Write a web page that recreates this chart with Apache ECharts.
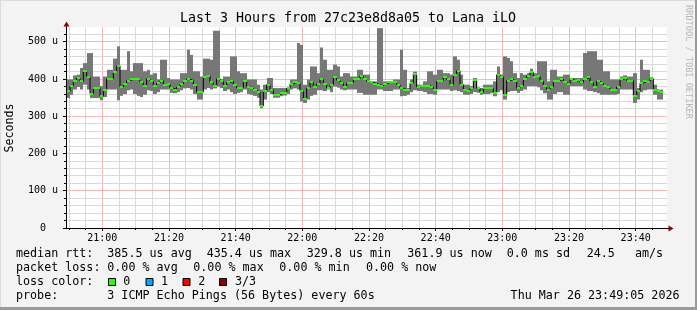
<!DOCTYPE html>
<html><head><meta charset="utf-8">
<script src="https://cdn.jsdelivr.net/npm/echarts@6/dist/echarts.min.js"></script>
<style>html,body{margin:0;padding:0;background:#f3f3f3}#c{width:697px;height:310px}</style>
</head><body><div id="c"></div>
<script>
// ---------- data (microseconds) ----------
const TITLE = 'Last 3 Hours from 27c23e8d8a05 to Lana iLO';
const FIRST_STEP_END = 50.3;   // minutes after 20:00 at which the first 60s step ends
const STEP = 1;                // minutes per step
const medianRtt = [
367,382,394,403,394,421,407,361,377,377,
354,370,401,401,418,436,379,388,396,399,
399,399,391,382,401,394,382,389,396,385,
387,376,372,379,387,394,400,396,385,365,
365,406,409,391,381,401,394,381,391,394,
385,376,376,394,379,376,370,365,328,367,
385,372,358,358,363,363,375,387,391,389,
367,347,376,391,379,388,399,387,376,385,
406,397,389,379,389,
390,399,401,409,400,394,391,388,385,382,
388,391,391,391,385,375,372,372,389,415,
379,382,381,382,379,372,394,396,406,399,
385,412,423,385,370,369,376,397,375,365,
376,375,375,363,412,406,358,396,399,394,
375,382,400,409,418,407,409,394,381,372,
379,394,396,400,391,387,399,394,397,391,
400,405,391,379,394,389,382,378,372,372,
379,399,403,396,396,355,367,389,394,391,
401,372,367,365];
const maxRtt = [
399,399,410,412,430,443,470,470,407,407,
381,407,425,425,455,488,425,425,475,421,
443,443,443,421,425,412,416,399,452,452,
403,399,399,399,416,416,479,465,421,421,
407,455,455,452,530,530,400,407,407,461,
461,421,416,416,399,399,399,385,372,385,
403,403,376,376,376,376,376,399,399,497,
492,385,399,434,434,416,485,452,425,425,
439,434,407,416,416,
407,407,425,425,412,412,394,394,537,537,
394,394,394,399,399,479,425,376,399,420,
385,385,394,421,421,412,425,425,416,416,
412,461,452,412,385,385,381,403,378,376,
385,385,385,394,434,412,461,457,448,416,
403,416,412,416,428,416,448,448,448,394,
425,425,407,407,412,412,403,403,403,403,
470,475,475,475,452,452,421,421,399,399,
399,407,410,407,407,416,376,452,425,425,
405,385,372,372];
const minRtt = [
349,358,372,379,372,385,372,349,349,349,
343,352,372,372,372,343,355,360,370,372,
360,355,352,358,370,368,360,365,372,372,
372,363,362,365,370,375,376,372,360,345,
345,372,376,372,375,380,376,368,372,365,
360,363,365,372,360,358,355,350,322,345,
365,360,350,350,354,356,360,372,375,372,
340,336,345,355,358,370,370,368,372,365,
380,377,372,370,372,
372,372,363,363,358,358,358,358,372,372,
368,368,368,372,372,354,355,358,365,370,
368,368,365,360,360,358,372,372,372,372,
368,370,368,365,358,358,360,365,363,358,
360,360,362,354,365,370,345,365,368,368,
363,368,372,381,381,381,378,370,362,345,
345,360,365,365,358,358,381,381,381,381,
372,368,368,365,362,358,358,358,358,358,
360,372,372,372,372,336,345,365,370,372,
372,358,345,345];
const xTickMinutes = [60,80,100,120,140,160,180,200,220];
const yTickValues = [0,100,200,300,400,500];
const statLabels = ['median rtt:','packet loss:','loss color:','probe:'];
const medianStats = ['385.5 us avg','435.4 us max','329.8 us min','361.9 us now','0.0 ms sd','24.5','am/s'];
const lossStats = ['0.00 % avg','0.00 % max','0.00 % min','0.00 % now'];
const lossColorNames = ['0','1','2','3/3'];
const lossColors = ['#26ff00','#00a8ff','#ff0000','#8e0000'];
const probeText = '3 ICMP Echo Pings (56 Bytes) every 60s';
const stampText = 'Thu Mar 26 23:49:05 2026';

// ---------- rendering ----------
const FONT = 'DejaVu Sans Mono';
const X_MIN = 49.4, X_MAX = 229.4, Y_MIN = 0, Y_MAX = 540;
const endTimes = medianRtt.map((_, i) => FIRST_STEP_END + i * STEP);
const smokeData = endTimes.map((t, i) => [t, minRtt[i], maxRtt[i]]);
const medData = endTimes.map((t, i) => [t, medianRtt[i]]);
const vLines = [];   // [minute, isMajor]
for (let m = 50; m <= 225; m += 5) vLines.push([m, xTickMinutes.indexOf(m) >= 0]);
const hLines = [];   // [value, isMajor]
for (let v = 20; v < Y_MAX; v += 20) hLines.push([v, yTickValues.indexOf(v) >= 0]);
const MINOR_COL = '#d9d9d9', MAJOR_COL = '#f6b8b8';

function hhmm(m){ const h = 20 + Math.floor(m/60), mm = Math.round(m % 60); return h + ':' + (mm<10?'0':'') + mm; }
const crisp = v => Math.round(v - 0.5) + 0.5;

function smokeRender(params, api){
  const t = api.value(0), lo = api.value(1), hi = api.value(2);
  const a = api.coord([t - STEP, hi]), b = api.coord([t, lo]);
  const x0 = Math.round(a[0]), x1 = Math.round(b[0]);
  return {type:'rect', shape:{x:x0, y:a[1], width:x1-x0, height:b[1]-a[1]}, style:{fill:'#777777'}};
}
function greenRender(params, api){
  const t = api.value(0), v = api.value(1);
  const a = api.coord([t - STEP, v]), b = api.coord([t, v]);
  const x0 = Math.round(a[0]), x1 = Math.round(b[0]);
  return {type:'rect', shape:{x:x0, y:Math.round(a[1])-1, width:x1-x0, height:2}, style:{fill:lossColors[0]}};
}

const txt = (x, y, text, extra) => Object.assign({type:'text', x, y, silent:true, z:20,
  style:Object.assign({text, fill:'#000', font:'11.7px "'+FONT+'"', verticalAlign:'middle', align:'left'}, extra||{})});

const chart = echarts.init(document.getElementById('c'), null, {renderer:'canvas'});
chart.setOption({
  animation:false,
  backgroundColor:'#f3f3f3',
  grid:{left:67, top:27, width:600, height:201, show:false},
  xAxis:{type:'value', min:X_MIN, max:X_MAX,
    axisLine:{show:false}, splitLine:{show:false}, axisTick:{show:false},
    axisLabel:{customValues:xTickMinutes, formatter:v=>hhmm(v), fontFamily:FONT, fontSize:10, color:'#000', margin:5}
  },
  yAxis:{type:'value', min:Y_MIN, max:Y_MAX,
    axisLine:{show:false}, splitLine:{show:false}, axisTick:{show:false},
    axisLabel:{customValues:yTickValues, formatter:v=> v===0 ? '0  ' : (v + ' u'), fontFamily:FONT, fontSize:10, color:'#000', margin:9}
  },
  series:[
    {type:'custom', name:'smoke', z:3, clip:true, silent:true, renderItem:smokeRender,
     encode:{x:0, y:[1,2]}, data:smokeData},
    {type:'line', name:'median', z:4, step:'start', showSymbol:false, symbol:'none', silent:true,
     lineStyle:{color:'#000', width:1}, data:medData},
    {type:'custom', name:'loss0', z:5, clip:true, silent:true, renderItem:greenRender,
     encode:{x:0, y:1}, data:medData}
  ]
});

// positions from the chart's own scales
const px = (x, y) => chart.convertToPixel({gridIndex:0}, [x, y]);
const tl = px(X_MIN, Y_MAX), br = px(X_MAX, Y_MIN);
const graphics = [
  {type:'rect', z:-5, silent:true, shape:{x:tl[0], y:tl[1], width:br[0]-tl[0], height:br[1]-tl[1]}, style:{fill:'#ffffff'}},
  {type:'line', shape:{x1:0, y1:0.5, x2:697, y2:0.5}, style:{stroke:'#dcdcdc', lineWidth:1}},
  {type:'line', shape:{x1:0.5, y1:0, x2:0.5, y2:310}, style:{stroke:'#dcdcdc', lineWidth:1}},
  {type:'line', shape:{x1:0, y1:308.5, x2:697, y2:308.5}, style:{stroke:'#9a9a9a', lineWidth:3}},
  {type:'line', shape:{x1:696, y1:0, x2:696, y2:310}, style:{stroke:'#9a9a9a', lineWidth:2}},
  txt(348, 19, TITLE, {font:'13.3px "'+FONT+'"', align:'center'}),
  {type:'text', x:10, y:128, rotation:Math.PI/2, silent:true,
   style:{text:'Seconds', font:'11.6px "'+FONT+'"', fill:'#000', align:'center', verticalAlign:'middle'}},
  {type:'text', x:688, y:62, rotation:-Math.PI/2, silent:true,
   style:{text:'RRDTOOL / TOBI OETIKER', font:'8.6px "'+FONT+'"', fill:'#b8b8b8', align:'center', verticalAlign:'middle'}},
  {type:'line', shape:{x1:66.5, y1:25, x2:66.5, y2:229}, style:{stroke:'#000', lineWidth:1}, z:20},
  {type:'polygon', shape:{points:[[63.5,26.5],[69.5,26.5],[66.5,21.5]]}, style:{fill:'#8b0000'}, z:21},
  {type:'line', shape:{x1:66, y1:228.5, x2:670, y2:228.5}, style:{stroke:'#000', lineWidth:1}, z:20},
  {type:'polygon', shape:{points:[[668.5,225.5],[668.5,231.5],[673.5,228.5]]}, style:{fill:'#8b0000'}, z:21},
];
vLines.forEach(([m, major]) => {
  const p0 = px(m, Y_MIN), p1 = px(m, Y_MAX), x = crisp(p0[0]);
  graphics.push({type:'line', z:1, silent:true, shape:{x1:x, y1:p1[1], x2:x, y2:p0[1]},
    style:{stroke: major ? MAJOR_COL : MINOR_COL, lineWidth:1}});
  graphics.push({type:'line', z:20, silent:true, shape:{x1:x, y1:p0[1], x2:x, y2:p0[1] + (major ? 3 : 2)},
    style:{stroke:'#000', lineWidth:1}});
});
hLines.forEach(([v, major]) => {
  const p0 = px(X_MIN, v), p1 = px(X_MAX, v), y = crisp(p0[1]);
  graphics.push({type:'line', z:1, silent:true, shape:{x1:p0[0], y1:y, x2:p1[0], y2:y},
    style:{stroke: major ? MAJOR_COL : MINOR_COL, lineWidth:1}});
  graphics.push({type:'line', z:20, silent:true, shape:{x1:p0[0] - (major ? 4 : 3), y1:y, x2:p0[0] - 1, y2:y},
    style:{stroke:'#000', lineWidth:1}});
});
{ const p0 = px(X_MIN, 0); graphics.push({type:'line', z:20, silent:true, shape:{x1:p0[0]-4, y1:228.5, x2:p0[0]-1, y2:228.5}, style:{stroke:'#000', lineWidth:1}}); }
const rowY = [254.3, 268.3, 282.3, 296];
statLabels.forEach((s, i) => graphics.push(txt(16, rowY[i], s)));
const medX = [107.3, 206.7, 306.7, 407.3, 506.7, 586.7, 635];
medianStats.forEach((s, i) => graphics.push(txt(medX[i], rowY[0], s)));
const lossX = [107.3, 193.3, 279.3, 366];
lossStats.forEach((s, i) => graphics.push(txt(lossX[i], rowY[1], s)));
const boxX = [108.5, 146, 183, 219.5], nameX = [123.3, 161, 198.3, 235];
lossColorNames.forEach((s, i) => {
  graphics.push({type:'rect', shape:{x:boxX[i], y:278.5, width:7, height:7}, style:{fill:lossColors[i], stroke:'#000', lineWidth:1}});
  graphics.push(txt(nameX[i], rowY[2], s));
});
graphics.push(txt(107.3, rowY[3], probeText));
graphics.push(txt(679.5, rowY[3], stampText, {align:'right'}));

chart.setOption({graphic: graphics});
</script></body></html>
